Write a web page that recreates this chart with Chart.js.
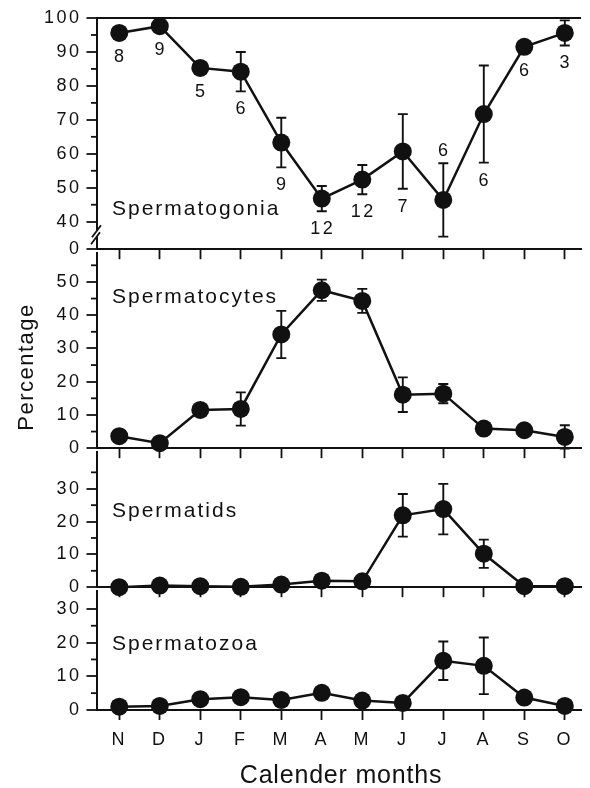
<!DOCTYPE html>
<html>
<head>
<meta charset="utf-8">
<script src="https://cdn.jsdelivr.net/npm/chart.js@4.4.1/dist/chart.umd.min.js"></script>
<style>
  html, body { margin: 0; padding: 0; background: #fff; }
  #wrap { position: relative; width: 590px; height: 788px; overflow: hidden; }
  #wrap canvas { position: absolute; left: 0; }
</style>
</head>
<body>
<div id="wrap">
  <canvas id="c1" width="590" height="265" style="top:0px"></canvas>
  <canvas id="c2" width="590" height="231" style="top:233px"></canvas>
  <canvas id="c3" width="590" height="171" style="top:432px"></canvas>
  <canvas id="c4" width="590" height="217" style="top:571px"></canvas>
</div>
<script>
// data (mean % with SE bars, n = number of animals)
const months = ['N', 'D', 'J', 'F', 'M', 'A', 'M', 'J', 'J', 'A', 'S', 'O'];

const spermatogonia    = [95.6, 97.6, 85.3, 84.2, 63.3, 46.8, 52.4, 60.7, 46.4, 71.7, 91.5, 95.6];
const spermatogoniaErr = [0, 0, 0, 5.8, 7.3, 3.7, 4.3, 11.0, 10.8, 14.3, 0, 3.7];
const sampleSizes      = [8, 9, 5, 6, 9, 12, 12, 7, 6, 6, 6, 3];
const countAbove       = [8]; // index of the n label printed over the point

const spermatocytes    = [3.6, 1.5, 11.5, 11.8, 34.2, 47.5, 44.3, 16.1, 16.4, 5.9, 5.4, 3.4];
const spermatocytesErr = [0, 0, 0, 5.0, 7.1, 3.2, 3.6, 5.2, 2.9, 0, 0, 3.5];

const spermatids       = [0, 0.5, 0.3, 0.1, 0.8, 2.0, 1.8, 21.9, 23.8, 10.2, 0.3, 0.3];
const spermatidsErr    = [0, 0, 0, 0, 0, 0, 0, 6.5, 7.7, 4.3, 0, 0];

const spermatozoa      = [1.0, 1.2, 3.2, 3.8, 3.0, 5.1, 2.8, 2.1, 14.6, 13.1, 3.7, 1.2];
const spermatozoaErr   = [0, 0, 0, 0, 0, 0, 0, 0, 5.7, 8.4, 0, 0];

const gonTicks   = [40, 50, 60, 70, 80, 90, 100];
const gonMinors  = [45, 55, 65, 75, 85, 95];
const cytTicks   = [0, 10, 20, 30, 40, 50];
const cytMinors  = [5, 15, 25, 35, 45, 55];
const tidTicks   = [0, 10, 20, 30];
const tidMinors  = [5, 15, 25, 35];
const zoaTicks   = [0, 10, 20, 30];
const zoaMinors  = [5, 15, 25];

const INK = '#111';
const FONT = '"Liberation Sans", Arial, Helvetica, sans-serif';
const AXIS_X = 97;

function drawText(ctx, t) {
  ctx.save();
  ctx.font = t.size + 'px ' + FONT;
  ctx.letterSpacing = (t.spacing || 0) + 'px';
  ctx.fillStyle = INK;
  ctx.textAlign = t.align || 'left';
  ctx.textBaseline = t.baseline || 'alphabetic';
  ctx.translate(t.x, t.y);
  if (t.rotate) ctx.rotate(t.rotate);
  ctx.fillText(t.text, 0, 0);
  ctx.restore();
}

const extras = {
  id: 'extras',
  beforeDraw(chart) {
    chart.ctx.letterSpacing = '2.5px';
  },
  beforeDatasetsDraw(chart, args, o) {
    const ctx = chart.ctx;
    const ys = chart.scales.y;
    const pts = chart.getDatasetMeta(0).data;
    const vals = chart.data.datasets[0].data;
    ctx.save();
    ctx.strokeStyle = INK;
    ctx.lineWidth = 1.9;
    (o.errors || []).forEach((e, i) => {
      if (!e) return;
      const x = pts[i].x;
      const top = ys.getPixelForValue(vals[i].y + e);
      const bot = ys.getPixelForValue(vals[i].y - e);
      ctx.beginPath();
      ctx.moveTo(x, top); ctx.lineTo(x, bot);
      ctx.moveTo(x - 5, top); ctx.lineTo(x + 5, top);
      ctx.moveTo(x - 5, bot); ctx.lineTo(x + 5, bot);
      ctx.stroke();
    });
    ctx.restore();
  },
  afterDraw(chart, args, o) {
    const ctx = chart.ctx;
    const ys = chart.scales.y;
    const x0 = chart.chartArea.left;

    // minor ticks on the y axis
    ctx.save();
    ctx.strokeStyle = INK;
    ctx.lineWidth = 1.8;
    (o.minors || []).forEach((v) => {
      const y = ys.getPixelForValue(v);
      ctx.beginPath();
      ctx.moveTo(x0 - 6, y);
      ctx.lineTo(x0, y);
      ctx.stroke();
    });

    // axis break
    if (o.breakAt) {
      const y = ys.getPixelForValue(o.breakAt);
      ctx.fillStyle = '#fff';
      ctx.fillRect(x0 - 2, y - 5, 4, 6);
      ctx.beginPath();
      ctx.moveTo(x0 - 5, y + 2); ctx.lineTo(x0 + 4, y - 10);
      ctx.moveTo(x0 - 6, y + 9); ctx.lineTo(x0 + 3, y - 3);
      ctx.stroke();
    }
    ctx.restore();

    // sample sizes
    if (o.counts) {
      const pts = chart.getDatasetMeta(0).data;
      const vals = chart.data.datasets[0].data;
      o.counts.forEach((n, i) => {
        const e = (o.errors || [])[i] || 0;
        const py = pts[i].y;
        let y;
        if ((o.above || []).includes(i)) {
          y = e ? ys.getPixelForValue(vals[i].y + e) - 12 : py - 24;
        } else {
          y = Math.max(py + 24, ys.getPixelForValue(vals[i].y - e) + 18);
        }
        drawText(ctx, { text: String(n), x: pts[i].x + 1, y, size: 18, spacing: 2.5, align: 'center', baseline: 'middle' });
      });
    }

    (o.texts || []).forEach((t) => drawText(ctx, t));
  },
};

function buildPanel(id, cfg) {
  return new Chart(document.getElementById(id), {
    type: 'line',
    data: {
      datasets: [{
        data: cfg.values.map((v, i) => ({ x: i, y: v })),
        borderColor: INK,
        borderWidth: 2.5,
        pointRadius: 9,
        pointBackgroundColor: INK,
        pointBorderWidth: 0,
        tension: 0,
        clip: false,
      }],
    },
    options: {
      responsive: false,
      animation: false,
      events: [],
      layout: { padding: { top: cfg.padTop, left: 0, right: 0, bottom: 0 } },
      plugins: {
        legend: { display: false },
        tooltip: { enabled: false },
        extras: {
          errors: cfg.errors,
          minors: cfg.minors,
          counts: cfg.counts,
          above: cfg.above,
          breakAt: cfg.breakAt,
          texts: cfg.texts,
        },
      },
      scales: {
        x: {
          type: 'linear',
          min: -0.55,
          max: 11.4,
          afterBuildTicks: (s) => { s.ticks = months.map((m, i) => ({ value: i })); },
          afterFit: (s) => { s.height = cfg.xHeight; },
          ticks: {
            display: !!cfg.showMonths,
            color: INK,
            padding: 9,
            font: { family: FONT, size: 18 },
            callback: (v) => months[v],
          },
          grid: { drawOnChartArea: false, tickLength: 10, tickWidth: 1.8, tickColor: INK },
          border: { color: INK, width: 2 },
        },
        y: {
          min: cfg.min,
          max: cfg.max,
          afterBuildTicks: (s) => { s.ticks = cfg.ticks.map((v) => ({ value: v })); },
          afterFit: (s) => { s.width = AXIS_X; },
          ticks: {
            color: INK,
            padding: 5,
            font: { family: FONT, size: 18 },
            callback: cfg.tickLabel || ((v) => v),
          },
          grid: {
            drawOnChartArea: !!cfg.topLine,
            color: (c) => (cfg.topLine && c.tick && c.tick.value === cfg.max ? INK : 'rgba(0,0,0,0)'),
            lineWidth: 2,
            tickLength: 10.5,
            tickWidth: 1.8,
            tickColor: INK,
          },
          border: { color: INK, width: 2 },
        },
      },
    },
    plugins: [extras],
  });
}

buildPanel('c1', {
  values: spermatogonia, errors: spermatogoniaErr, counts: sampleSizes, above: countAbove,
  min: 31.9, max: 100, ticks: [31.9].concat(gonTicks), minors: gonMinors,
  tickLabel: (v) => (v < 40 ? '0' : v), breakAt: 36, topLine: true,
  padTop: 18, xHeight: 12,
  texts: [{ text: 'Spermatogonia', x: 112, y: 215, size: 21, spacing: 2 }],
});

buildPanel('c2', {
  values: spermatocytes, errors: spermatocytesErr,
  min: 0, max: 58.7, ticks: cytTicks, minors: cytMinors,
  padTop: 20, xHeight: 12,
  texts: [
    { text: 'Spermatocytes', x: 112, y: 70, size: 21, spacing: 2 },
    { text: 'Percentage', x: 33, y: 134, size: 22, spacing: 1.5, align: 'center', rotate: -Math.PI / 2 },
  ],
});

buildPanel('c3', {
  values: spermatids, errors: spermatidsErr,
  min: 0, max: 41.2, ticks: tidTicks, minors: tidMinors,
  padTop: 20, xHeight: 12,
  texts: [{ text: 'Spermatids', x: 112, y: 85, size: 21, spacing: 2 }],
});

buildPanel('c4', {
  values: spermatozoa, errors: spermatozoaErr,
  min: 0, max: 35.3, ticks: zoaTicks, minors: zoaMinors,
  padTop: 20, xHeight: 78, showMonths: true,
  texts: [
    { text: 'Spermatozoa', x: 112, y: 79, size: 21, spacing: 2 },
    { text: 'Calender months', x: 341, y: 212, size: 25, spacing: 0.8, align: 'center' },
  ],
});
</script>
</body>
</html>
